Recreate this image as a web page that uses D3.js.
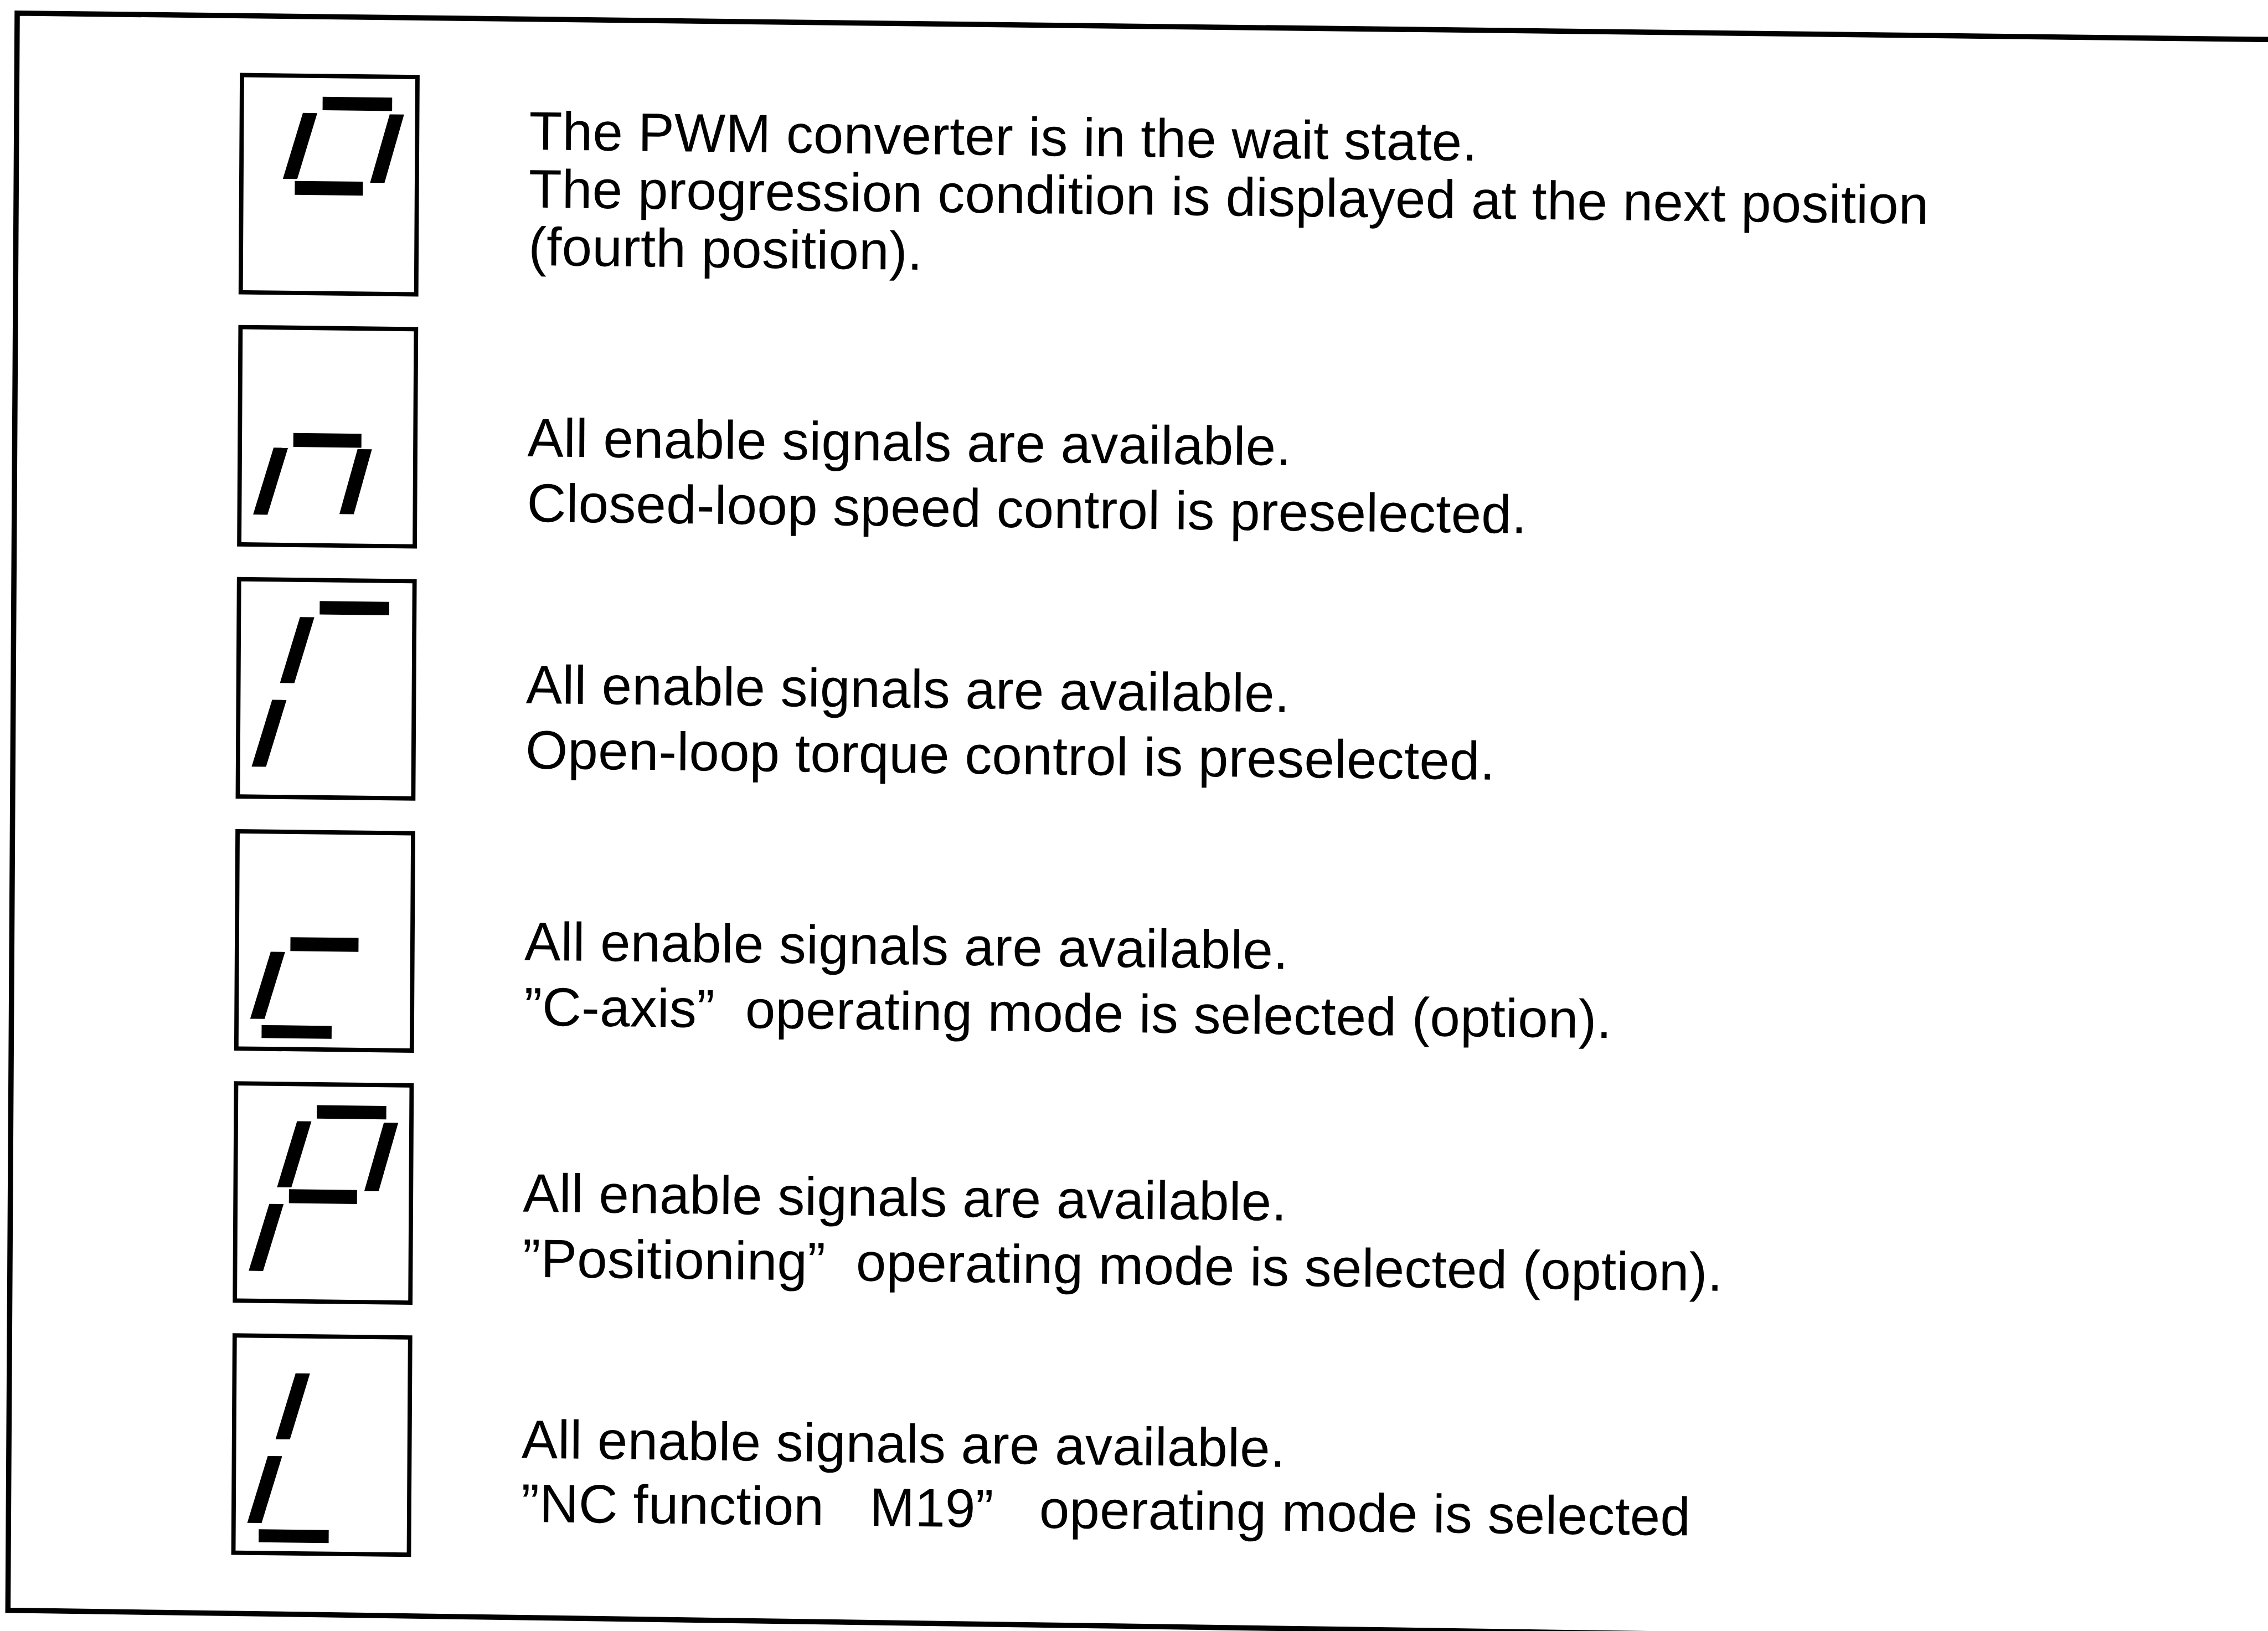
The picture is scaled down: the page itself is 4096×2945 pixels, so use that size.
<!DOCTYPE html>
<html>
<head>
<meta charset="utf-8">
<script src="https://cdn.jsdelivr.net/npm/d3@7"></script>
<style>
  html, body { margin: 0; padding: 0; background: #fff; }
  svg { display: block; }
  text { white-space: pre; }
</style>
</head>
<body>
<script>
// ---- data ----
const rowIds = [0, 1, 2, 3, 4, 5];
// lit segments of each seven-segment display (a..g)
const displayCodes = ["abfg", "gec", "afe", "ged", "abfge", "fed"];
const descriptions = [
  ["The PWM converter is in the wait state.",
   "The progression condition is displayed at the next position",
   "(fourth position)."],
  ["All enable signals are available.",
   "Closed-loop speed control is preselected."],
  ["All enable signals are available.",
   "Open-loop torque control is preselected."],
  ["All enable signals are available.",
   "\u201DC-axis\u201D  operating mode is selected (option)."],
  ["All enable signals are available.",
   "\u201DPositioning\u201D  operating mode is selected (option)."],
  ["All enable signals are available.",
   "\u201DNC function   M19\u201D   operating mode is selected"]
];

// ---- layout (reference pixel units, scaled to the window) ----
const W = 4096, H = 2945, S = 0.866;
const svg = d3.select("body").append("svg").attr("width", W).attr("height", H);
svg.append("rect").attr("width", W).attr("height", H).attr("fill", "#fff");

const root = svg.append("g")
  .attr("transform", `scale(${S}) matrix(1,0.0117,-0.0058,1,0,0)`);

// outer frame (open on the right; bottom edge runs off the scan)
root.append("path")
  .attr("d", "M4900,27 L36,27 L36,3357 L3560,3366")
  .attr("fill", "none").attr("stroke", "#000").attr("stroke-width", 11)
  .attr("stroke-linejoin", "miter");

const rowY = d3.scaleLinear().domain([0, 5]).range([146, 2774]);

// segment geometry relative to the display box (box outer top-left)
const hSeg = { a: [173, 318, 48, 76], g: [116, 258, 224, 253], d: [57, 203, 408, 435] };
const vSeg = { f: [147, 82, 106, 220], b: [328, 83, 288, 226], e: [90, 255, 48, 395], c: [265, 256, 228, 392] };
const hw = 15;

const boxX = 501, boxW = 375, boxH = 462, boxSW = 9;
const textX = 1105, fontSize = 113;
const line1Off = [153, 267, 256, 266, 265, 253];
const lineGap = [120.5, 136, 136, 136, 136, 133];

const rows = root.selectAll("g.row").data(rowIds).join("g")
  .attr("class", "row");

rows.append("rect")
  .attr("x", boxX + boxSW / 2)
  .attr("y", d => rowY(d) + boxSW / 2)
  .attr("width", boxW - boxSW)
  .attr("height", boxH - boxSW)
  .attr("fill", "none").attr("stroke", "#000").attr("stroke-width", boxSW);

rows.each(function(d) {
  const gRow = d3.select(this);
  const ox = boxX, oy = rowY(d);
  displayCodes[d].split("").forEach(s => {
    let pts;
    if (hSeg[s]) {
      const [x0, x1, y0, y1] = hSeg[s];
      pts = [[x0, y0], [x1, y0], [x1, y1], [x0, y1]];
    } else {
      const [tx, ty, bx, by] = vSeg[s];
      pts = [[tx - hw, ty], [tx + hw, ty], [bx + hw, by], [bx - hw, by]];
    }
    gRow.append("polygon")
      .attr("points", pts.map(p => [ox + p[0], oy + p[1]].join(",")).join(" "))
      .attr("fill", "#000");
  });
  descriptions[d].forEach((t, j) => {
    gRow.append("text")
      .attr("x", textX)
      .attr("y", oy + line1Off[d] + j * lineGap[d])
      .attr("font-family", "'Liberation Sans', Arial, Helvetica, sans-serif")
      .attr("font-size", fontSize)
      .attr("letter-spacing", 0.3)
      .attr("fill", "#000")
      .text(t);
  });
});
</script>
</body>
</html>
